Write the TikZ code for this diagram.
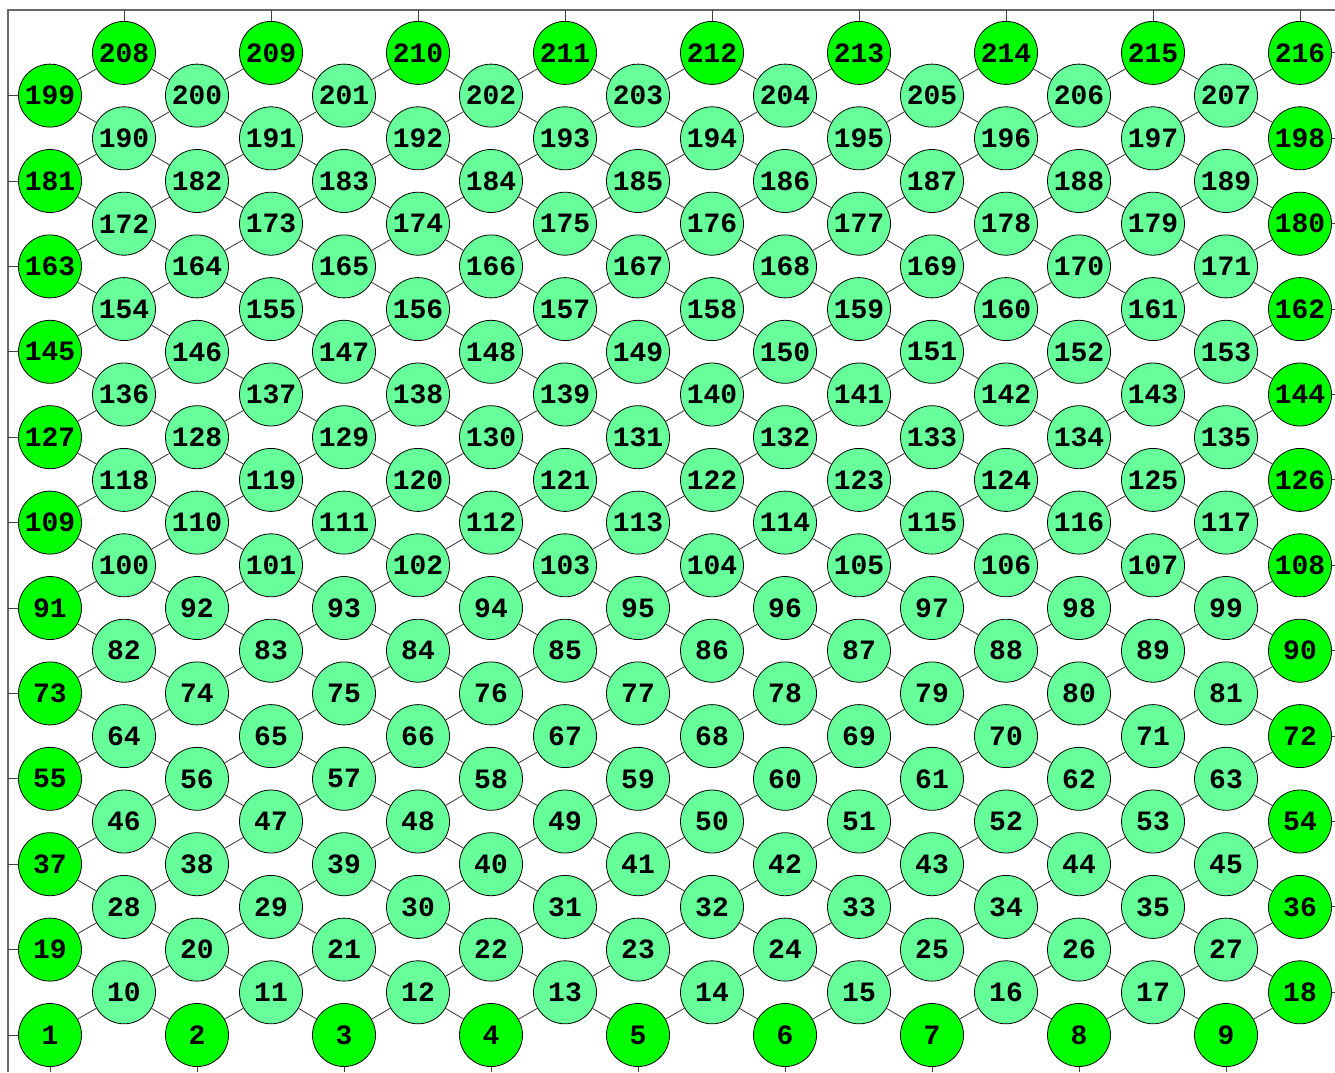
\documentclass[tikz,border=0pt]{standalone}
\usepackage{fontspec}
\setmonofont{Liberation Mono}
\definecolor{bnode}{RGB}{0,255,0}
\definecolor{lnode}{RGB}{102,255,153}
\tikzset{
  vtx/.style={circle, draw=black, line width=0.8pt, minimum size=63pt, inner sep=0pt,
    font=\fontsize{28}{28}\selectfont\ttfamily\bfseries},
  bvtx/.style={vtx, fill=bnode},
  lvtx/.style={vtx, fill=lnode},
  edge/.style={draw=black!80, line width=0.8pt},
  framel/.style={draw=black!60, line width=1.4pt},
  stub/.style={draw=black!75, line width=0.9pt},
}
\begin{document}
\begin{tikzpicture}[x=1pt,y=-1pt]
\useasboundingbox (0,0) rectangle (1335,1072);
\coordinate (ftop) at (8,10);
\coordinate (fbot) at (8,1072);
\coordinate (fright) at (1335,10);
\draw[framel] (fbot) -- (ftop) -- (fright);
% nodes
\foreach \r in {0,...,23} {
  \foreach \c in {0,...,8} {
    \pgfmathtruncatemacro\id{9*\r+\c+1}
    \pgfmathtruncatemacro\pty{mod(\r,2)}
    \pgfmathsetmacro\xx{(\pty==0 ? 50 : 124) + 147*\c}
    \pgfmathsetmacro\yy{1035 - 42.7*\r}
    \pgfmathtruncatemacro\bright{((\r==0) || (\r==23) || (\pty==0 && \c==0) || (\pty==1 && \c==8)) ? 1 : 0}
    \ifnum\bright=1
      \node[bvtx] (n\id) at (\xx,\yy) {\id};
    \else
      \node[lvtx] (n\id) at (\xx,\yy) {\id};
    \fi
  }
}
% edges
\foreach \r in {0,...,22} {
  \foreach \c in {0,...,8} {
    \pgfmathtruncatemacro\id{9*\r+\c+1}
    \pgfmathtruncatemacro\pty{mod(\r,2)}
    \ifnum\pty=0
      \pgfmathtruncatemacro\ur{\id+9}
      \draw[edge] (n\id) -- (n\ur);
      \ifnum\c>0
        \pgfmathtruncatemacro\ul{\id+8}
        \draw[edge] (n\id) -- (n\ul);
      \fi
    \else
      \pgfmathtruncatemacro\ul{\id+9}
      \draw[edge] (n\id) -- (n\ul);
      \ifnum\c<8
        \pgfmathtruncatemacro\ur{\id+10}
        \draw[edge] (n\id) -- (n\ur);
      \fi
    \fi
  }
}
% stubs to frame
\foreach \c in {0,...,8} {
  \pgfmathtruncatemacro\tp{208+\c}
  \pgfmathtruncatemacro\bt{1+\c}
  \draw[stub] (n\tp.north) -- (n\tp.north |- ftop);
  \draw[stub] (n\bt.south) -- (n\bt.south |- fbot);
}
\foreach \r in {0,2,...,22} {
  \pgfmathtruncatemacro\lf{9*\r+1}
  \pgfmathtruncatemacro\rt{9*\r+18}
  \draw[stub] (n\lf.west) -- (n\lf.west -| ftop);
  \draw[stub] (n\rt.east) -- (n\rt.east -| fright);
}
\end{tikzpicture}
\end{document}
